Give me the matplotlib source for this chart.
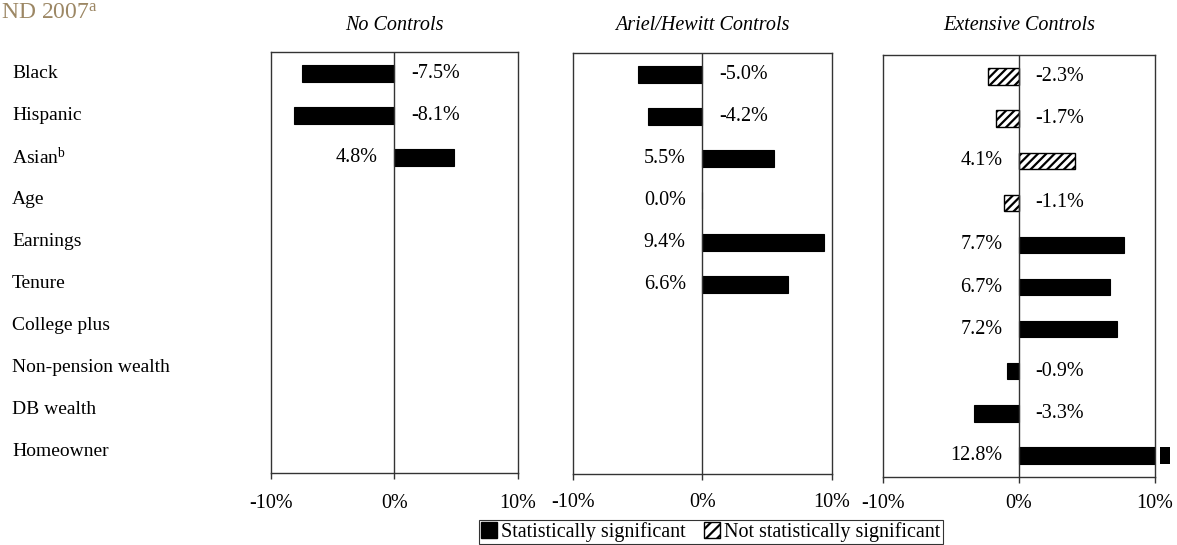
import numpy as np
import matplotlib
matplotlib.use("Agg")
import matplotlib.pyplot as plt
from matplotlib.patches import Patch

plt.rcParams['font.family'] = ['Liberation Serif', 'DejaVu Serif']
plt.rcParams['mathtext.fontset'] = 'custom'
plt.rcParams['mathtext.rm'] = 'Liberation Serif'
plt.rcParams['mathtext.it'] = 'Liberation Serif:italic'
plt.rcParams['hatch.linewidth'] = 1.6

categories = ["Black", "Hispanic", "Asian$^{\\mathrm{b}}$", "Age", "Earnings", "Tenure",
              "College plus", "Non-pension wealth", "DB wealth", "Homeowner"]
panel_titles = ["No Controls", "Ariel/Hewitt Controls", "Extensive Controls"]

# nan = not included in that specification
no_controls = [-7.5, -8.1, 4.8, np.nan, np.nan, np.nan, np.nan, np.nan, np.nan, np.nan]
ariel_hewitt = [-5.0, -4.2, 5.5, 0.0, 9.4, 6.6, np.nan, np.nan, np.nan, np.nan]
extensive = [-2.3, -1.7, 4.1, -1.1, 7.7, 6.7, 7.2, -0.9, -3.3, 12.8]

sig_no_controls = [True] * 10
sig_ariel_hewitt = [True] * 10
sig_extensive = [False, False, False, False, True, True, True, True, True, True]

xticks = [-10, 0, 10]
xtick_labels = ["-10%", "0%", "10%"]

fig = plt.figure(figsize=(11.77, 5.45), dpi=100)

# [left, bottom, width, height] in figure fraction
boxes = [[0.2302, 0.1321, 0.2099, 0.7725],
         [0.4868, 0.1303, 0.2200, 0.7725],
         [0.7502, 0.1248, 0.2311, 0.7743]]
tick_pads = [11, 10, 8]

series = [no_controls, ariel_hewitt, extensive]
sigs = [sig_no_controls, sig_ariel_hewitt, sig_extensive]
y = np.arange(len(categories))
axes = []

for box, vals, sig, title, pad in zip(boxes, series, sigs, panel_titles, tick_pads):
    ax = fig.add_axes(box)
    axes.append(ax)
    ax.set_xlim(-10, 10)
    ax.set_ylim(len(categories) - 0.48, -0.52)
    for yi, v, s in zip(y, vals, sig):
        if np.isnan(v):
            continue
        shown = min(v, 10)
        if s:
            ax.barh(yi, shown, height=0.4, color="black", edgecolor="black", linewidth=0.8)
        else:
            ax.barh(yi, shown, height=0.4, color="white", edgecolor="black",
                    hatch="////", linewidth=1.0)
        if v > 10:
            # broken bar: short stub past the frame
            ax.barh(yi, 0.7, left=10.4, height=0.4, color="black", clip_on=False)
        txt = f"{v:.1f}%"
        if v < 0:
            ax.annotate(txt, (0, yi), xytext=(12, 0), textcoords="offset points",
                        ha="left", va="center", fontsize=14.5)
        else:
            ax.annotate(txt, (0, yi), xytext=(-12, 0), textcoords="offset points",
                        ha="right", va="center", fontsize=14.5)
    ax.axvline(0, color="#333333", linewidth=1.0)
    ax.set_xticks(xticks)
    ax.set_xticklabels(xtick_labels, fontsize=14.5)
    ax.tick_params(axis="x", direction="out", length=4, width=1.0, color="#333333", pad=pad)
    ax.set_yticks([])
    for sp in ax.spines.values():
        sp.set_color("#333333")
        sp.set_linewidth(1.0)
    fig.text(box[0] + box[2] / 2, 0.953, title, fontsize=14.5, style="italic",
             ha="center", va="center")

# category names on the left, aligned with the rows of the first panel
trans = matplotlib.transforms.blended_transform_factory(fig.transFigure, axes[0].transData)
for yi, name in zip(y, categories):
    fig.text(0.0102, yi, name, transform=trans, ha="left", va="center", fontsize=14)

# heading from the page (cropped in the source)
fig.text(0.001, 0.975, "ND 2007$^{\\mathrm{a}}$", fontsize=17, color="#9c8764",
         ha="left", va="center")

handles = [Patch(facecolor="black", edgecolor="black", label="Statistically significant"),
           Patch(facecolor="white", edgecolor="black", hatch="///",
                 label="Not statistically significant")]
leg = fig.legend(handles=handles, loc="upper center", bbox_to_anchor=(0.604, 0.046),
                 ncol=2, frameon=True, fancybox=False, fontsize=14.5, handlelength=0.8,
                 handleheight=0.8, handletextpad=0.2, columnspacing=0.9,
                 borderpad=0.1, borderaxespad=0)
leg.get_frame().set_edgecolor("black")
leg.get_frame().set_linewidth(0.8)

fig.savefig("out.png", dpi=100)
